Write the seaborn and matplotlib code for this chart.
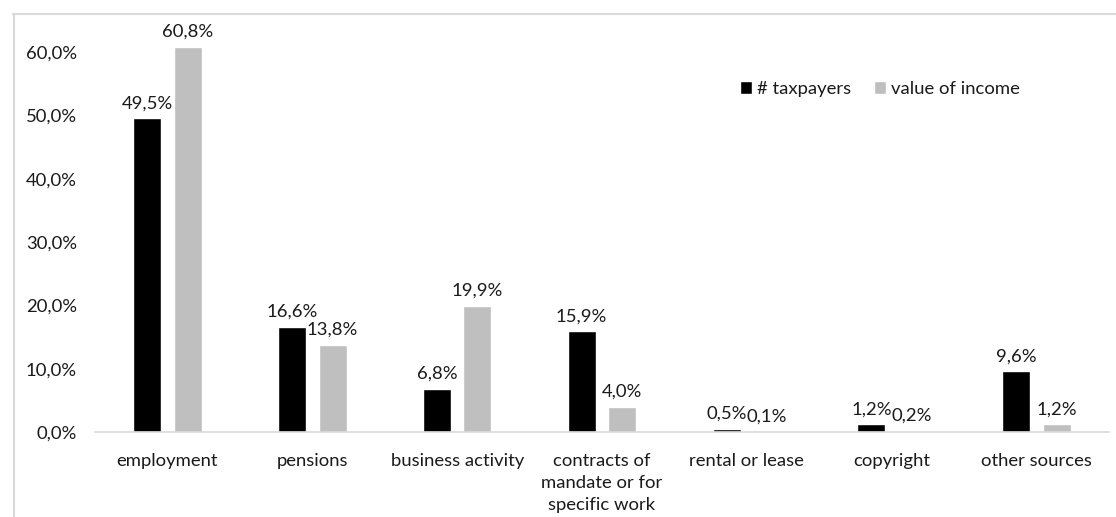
import matplotlib
matplotlib.use("Agg")
import matplotlib.pyplot as plt
import seaborn as sns
import pandas as pd
from matplotlib.lines import Line2D

categories = ["employment", "pensions", "business activity",
              "contracts of\nmandate or for\nspecific work",
              "rental or lease", "copyright", "other sources"]
taxpayers = [49.5, 16.6, 6.8, 15.9, 0.5, 1.2, 9.6]
income_value = [60.8, 13.8, 19.9, 4.0, 0.1, 0.2, 1.2]
series_names = ["# taxpayers", "value of income"]
yticks = [0, 10, 20, 30, 40, 50, 60]

df = pd.DataFrame({
    "category": categories * 2,
    "series": [series_names[0]] * len(categories) + [series_names[1]] * len(categories),
    "value": taxpayers + income_value,
})

sns.set_theme(style="white")
plt.rcParams["font.family"] = ["Lato", "DejaVu Sans"]
text_color = "#1a1a1a"
fs = 13.3

fig = plt.figure(figsize=(11.16, 5.17), dpi=100)
W, H = 1116, 517
ax = fig.add_axes([95 / W, (H - 432) / H, (1109 - 95) / W, (432 - 20.3) / H])

sns.barplot(data=df, x="category", y="value", hue="series",
            palette=["#000000", "#BFBFBF"], width=0.56, gap=0.31,
            ax=ax, saturation=1, legend=True)

ax.set_xlim(-0.5, 6.5)
ax.set_ylim(0, 65)
ax.set_yticks(yticks)
ax.set_yticklabels([f"{v:.1f}%".replace(".", ",") for v in yticks],
                   fontsize=fs, color=text_color)
ax.tick_params(axis="y", length=0, pad=13)
ax.tick_params(axis="x", length=0, pad=15, labelsize=fs, labelcolor=text_color)
for lbl in ax.get_xticklabels():
    lbl.set_linespacing(1.45)
ax.set_xlabel("")
ax.set_ylabel("")
for s in ["top", "right", "left"]:
    ax.spines[s].set_visible(False)
ax.spines["bottom"].set_color("#D9D9D9")
ax.spines["bottom"].set_linewidth(1.2)
ax.grid(False)

for cont in ax.containers:
    labels = [f"{b.get_height():.1f}%".replace(".", ",") for b in cont]
    ax.bar_label(cont, labels=labels, padding=5, fontsize=fs,
                 color=text_color, clip_on=False)

leg = ax.legend(loc="center", bbox_to_anchor=(880 / W, (H - 89) / H),
                bbox_transform=fig.transFigure, ncol=2, frameon=False,
                fontsize=fs, handlelength=0.65, handleheight=0.65,
                handletextpad=0.3, columnspacing=1.2)
for t in leg.get_texts():
    t.set_color(text_color)

# outer chart frame (top and left edges visible)
fig.add_artist(Line2D([13 / W, 1], [(H - 14) / H, (H - 14) / H],
                      transform=fig.transFigure, color="#D9D9D9", lw=1.5))
fig.add_artist(Line2D([14 / W, 14 / W], [0, (H - 14) / H],
                      transform=fig.transFigure, color="#D9D9D9", lw=1.5))

fig.savefig("out.png", dpi=100)
